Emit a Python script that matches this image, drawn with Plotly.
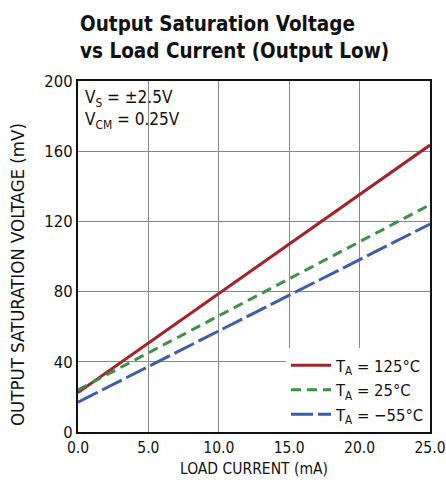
import plotly.graph_objects as go

load_current = [0.0, 25.0]
v_125 = [22.5, 163.5]
v_25 = [24.0, 129.5]
v_m55 = [17.0, 118.5]

series_names = ["T<sub>A</sub> = 125°C", "T<sub>A</sub> = 25°C", "T<sub>A</sub> = −55°C"]
series_vals = [v_125, v_25, v_m55]
colors = ["#A4232A", "#3C9147", "#3D5DAB"]
dashes = ["solid", "10px,6px", "22px,5px"]

x_ticks = [0, 5, 10, 15, 20, 25]
y_ticks = [0, 40, 80, 120, 160, 200]

FONT = "DejaVu Sans Condensed, Liberation Sans Narrow, Arial Narrow, sans-serif"

fig = go.Figure()
for name, vals, c, d in zip(series_names, series_vals, colors, dashes):
    fig.add_trace(go.Scatter(x=load_current, y=vals, mode="lines", name=name,
                             line=dict(color=c, width=3, dash=d)))

fig.update_layout(
    width=446, height=487,
    margin=dict(l=78, r=16, t=81, b=55),
    paper_bgcolor="white", plot_bgcolor="white",
    font=dict(family=FONT, color="#111", size=17),
    showlegend=True,
    legend=dict(x=1, xanchor="right", y=0, yanchor="bottom", bgcolor="white",
                borderwidth=0, font=dict(size=16.5, family=FONT),
                tracegroupgap=0, itemwidth=40, traceorder="normal"),
    xaxis=dict(range=[0, 25], tickvals=x_ticks, tickformat=".1f",
               showgrid=True, gridcolor="#888", gridwidth=1,
               showline=True, linecolor="#111", linewidth=2, mirror=True,
               zeroline=False, ticks="", tickfont=dict(size=15.5),
               ticklabeloverflow="allow", automargin=False,
               title=dict(text="LOAD CURRENT (mA)", font=dict(size=15.5), standoff=8)),
    yaxis=dict(range=[0, 200], tickvals=y_ticks, automargin=False,
               showgrid=True, gridcolor="#888", gridwidth=1,
               showline=True, linecolor="#111", linewidth=2, mirror=True,
               zeroline=False, ticks="", tickfont=dict(size=16.5)),
)

fig.add_annotation(
    text="OUTPUT SATURATION VOLTAGE (mV)", textangle=-90,
    xref="paper", yref="paper", x=(17 - 78) / 352, y=(432 - 275) / 351,
    xanchor="center", yanchor="middle", showarrow=False,
    font=dict(size=18.5, family=FONT, color="#111"),
)

fig.add_annotation(
    text="<b>Output Saturation Voltage<br>vs Load Current (Output Low)</b>",
    xref="paper", yref="paper", x=0.0, y=1 + 71 / 351, xanchor="left", yanchor="top",
    showarrow=False, align="left", font=dict(size=20.5, family=FONT, color="#111"),
)

fig.add_annotation(
    text="V<sub>S</sub> = ±2.5V<br>V<sub>CM</sub> = 0.25V",
    xref="paper", yref="paper", x=0.015, y=0.99, xanchor="left", yanchor="top",
    showarrow=False, align="left", font=dict(size=17, family=FONT, color="#111"),
)

fig.write_html(
    "out.html",
    config={"displayModeBar": False},
    post_script="document.body.style.margin='0';"
                "document.body.style.overflow='hidden';"
                "document.documentElement.style.overflow='hidden';",
)
